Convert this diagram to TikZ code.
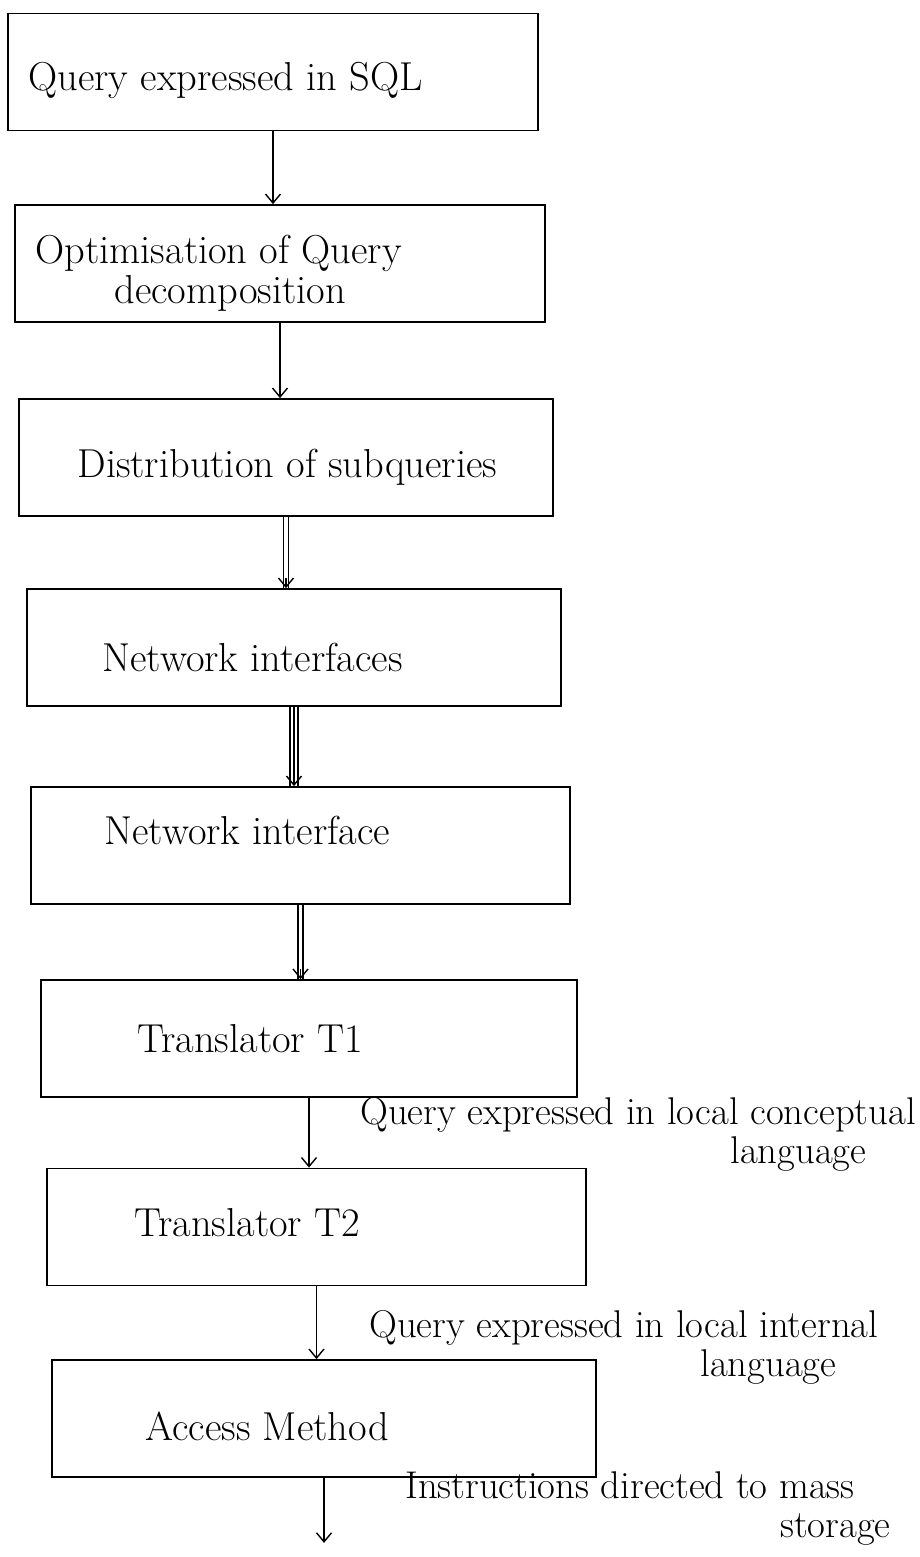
\documentclass[tikz,border=0pt]{standalone}
\usetikzlibrary{arrows.meta,positioning}
\begin{document}
\begin{tikzpicture}[x=0.2mm,y=-0.2mm,
      box/.style={rectangle,draw,line width=1pt,minimum height=2.34cm},
      txt/.style={inner sep=0pt,anchor=west,align=left,font=\fontsize{23}{23}\selectfont},
      note/.style={inner sep=0pt,anchor=base west,align=left,font=\fontsize{22}{22}\selectfont},
      rail/.style={line width=0.8pt},
      flow/.style={line width=0.8pt,-{Straight Barb[length=1.8mm,width=3mm]}}]
    \useasboundingbox (0,0) rectangle (919,1557);
    \clip (0,0) rectangle (919,1557);
    \node[box,minimum width=10.6cm] (sql) at (273,72) {};
    \node[box,minimum width=10.6cm] (optim) at (280,263.5) {};
    \node[box,minimum width=10.68cm] (distrib) at (286,457.5) {};
    \node[box,minimum width=10.68cm] (netif) at (294,647.5) {};
    \node[box,minimum width=10.78cm] (netifb) at (300.5,845.5) {};
    \node[box,minimum width=10.72cm] (transa) at (309,1038.5) {};
    \node[box,minimum width=10.78cm] (transb) at (316.5,1227) {};
    \node[box,minimum width=10.88cm] (access) at (324,1418.5) {};
    \coordinate[below=1.3cm of access.south] (store);

    \node[txt] (sqltxt) at ([shift={(21,8)}]sql.west) {Query expressed in SQL};
    \node[txt] (optimtxt) at ([shift={(21,10)}]optim.west) {Optimisation of Query\\\hspace*{1.58cm}decomposition};
    \node[txt] (distribtxt) at ([shift={(59,10)}]distrib.west) {Distribution of subqueries};
    \node[txt] (netiftxt) at ([shift={(76,10)}]netif.west) {Network interfaces};
    \node[txt] (netifbtxt) at ([shift={(74,-15)}]netifb.west) {Network interface};
    \node[txt] (transatxt) at ([shift={(97,0)}]transa.west) {Translator T1};
    \node[txt] (transbtxt) at ([shift={(88,-4)}]transb.west) {Translator T2};
    \node[txt] (accesstxt) at ([shift={(94,8)}]access.west) {Access Method};

    \draw[flow] (sql.south) -- (sql.south |- optim.north);
    \draw[flow] (optim.south) -- (optim.south |- distrib.north);
    \draw[rail] ([xshift=-0.5mm]distrib.south) -- ([xshift=-0.5mm]distrib.south |- netif.north);
    \draw[rail] ([xshift=0.5mm]distrib.south) -- ([xshift=0.5mm]distrib.south |- netif.north);
    \draw[flow] ([yshift=2mm]distrib.south |- netif.north) -- (distrib.south |- netif.north);
    \draw[rail] ([xshift=-0.8mm]netif.south) -- ([xshift=-0.8mm]netif.south |- netifb.north);
    \draw[rail] ([xshift=0.8mm]netif.south) -- ([xshift=0.8mm]netif.south |- netifb.north);
    \draw[flow] (netif.south) -- (netif.south |- netifb.north);
    \draw[rail] ([xshift=-0.5mm]netifb.south) -- ([xshift=-0.5mm]netifb.south |- transa.north);
    \draw[rail] ([xshift=0.5mm]netifb.south) -- ([xshift=0.5mm]netifb.south |- transa.north);
    \draw[flow] ([yshift=2mm]netifb.south |- transa.north) -- (netifb.south |- transa.north);
    \draw[flow] (transa.south) -- (transa.south |- transb.north);
    \draw[flow] (transb.south) -- (transb.south |- access.north);
    \draw[flow] (access.south) -- (store);

    \node[note] (conclbl) at (360,1163) {Query expressed in local conceptual\\\hspace*{7.4cm}language};
    \node[note] (intlbl) at (369,1376) {Query expressed in local internal\\\hspace*{6.62cm}language};
    \node[note] (storelbl) at (405,1537) {Instructions directed to mass\\\hspace*{7.5cm}storage};
\end{tikzpicture}
\end{document}
